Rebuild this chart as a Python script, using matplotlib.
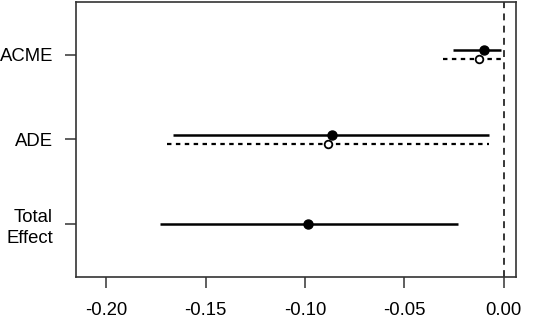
import matplotlib
matplotlib.use("Agg")
import matplotlib.pyplot as plt

categories = ["ACME", "ADE", "Total\nEffect"]
# series 1 (solid, filled)
est1 = [-0.0099, -0.0863, -0.0984]
lo1 = [-0.0257, -0.1665, -0.1729]
hi1 = [-0.0014, -0.0076, -0.0232]
# series 2 (dotted, open) - only ACME and ADE
est2 = [-0.0124, -0.0885]
lo2 = [-0.0304, -0.1697]
hi2 = [-0.0014, -0.0076]
xticks = [-0.20, -0.15, -0.10, -0.05, 0.00]

plt.rcParams['font.family'] = ['Liberation Sans', 'DejaVu Sans']

fig = plt.figure(figsize=(5.36, 3.21), dpi=100)
ax = fig.add_axes([0.1418, 0.1371, 0.8209, 0.8567])

ypos = [3, 2, 1]
off = 0.05
for i, y in enumerate(ypos):
    yy = y + off if i < len(est2) else y
    ax.plot([lo1[i], hi1[i]], [yy, yy], color='black', lw=1.8, solid_capstyle='butt')
    ax.plot(est1[i], yy, 'o', color='black', ms=6.5)
for i in range(len(est2)):
    yy = ypos[i] - off
    ax.plot([lo2[i], hi2[i]], [yy, yy], color='black', lw=1.6, linestyle=(0, (2, 2)))
    ax.plot(est2[i], yy, 'o', mfc='white', mec='black', mew=1.3, ms=5.5)

ax.axvline(0, color='black', lw=1.1, linestyle=(0, (4.5, 3.5)))

ax.set_xlim(-0.2153, 0.0062)
ax.set_ylim(0.38, 3.62)
ax.set_xticks(xticks)
ax.set_xticklabels([f"{t:.2f}" for t in xticks])
ax.set_yticks(ypos)
ax.set_yticklabels(categories, ha='right', linespacing=1.3)
ax.tick_params(axis='both', length=8, width=1.1, labelsize=13.3, color='#333333')
ax.tick_params(axis='x', pad=10)
ax.tick_params(axis='y', pad=8.5)
for s in ax.spines.values():
    s.set_linewidth(1.2)
    s.set_color('#333333')

fig.savefig("out.png", dpi=100)
